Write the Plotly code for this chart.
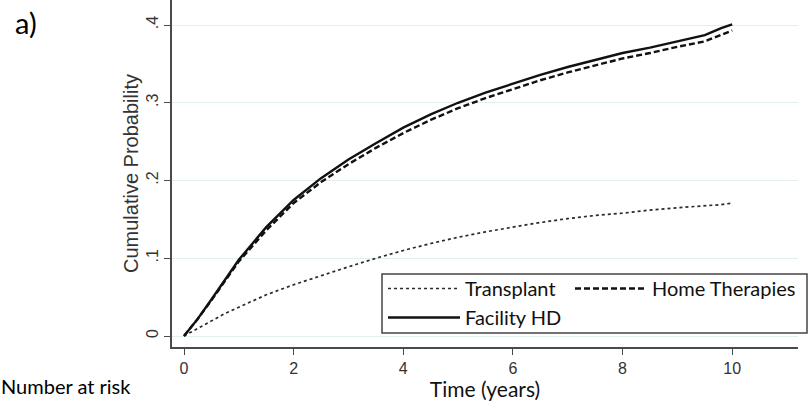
import plotly.graph_objects as go

# ---- data ----
time_years = [0, 0.25, 0.5, 0.75, 1.0, 1.5, 2.0, 2.5, 3.0, 3.5, 4.0, 4.5, 5.0,
              5.5, 6.0, 6.5, 7.0, 7.5, 8.0, 8.5, 9.0, 9.5, 9.8, 10.0]
facility_hd = [0, 0.022, 0.047, 0.072, 0.098, 0.140, 0.175, 0.203, 0.227, 0.248,
               0.268, 0.285, 0.300, 0.313, 0.325, 0.336, 0.346, 0.355, 0.364,
               0.371, 0.379, 0.387, 0.396, 0.401]
home_therapies = [0, 0.022, 0.046, 0.071, 0.096, 0.136, 0.171, 0.198, 0.221, 0.242,
                  0.261, 0.278, 0.293, 0.306, 0.318, 0.329, 0.339, 0.348, 0.357,
                  0.364, 0.372, 0.379, 0.387, 0.393]
transplant = [0, 0.010, 0.020, 0.029, 0.037, 0.053, 0.066, 0.078, 0.089, 0.100,
              0.110, 0.119, 0.127, 0.134, 0.140, 0.146, 0.151, 0.155, 0.158,
              0.162, 0.165, 0.167, 0.169, 0.171]

y_ticks = [0, 0.1, 0.2, 0.3, 0.4]
y_tick_labels = ["0", ".1", ".2", ".3", ".4"]
x_ticks = [0, 2, 4, 6, 8, 10]
x_tick_labels = ["0", "2", "4", "6", "8", "10"]

AX = "#4a4a4a"
GRID = "#e3eef1"
LEG_FONT = dict(family="Lato, 'Open Sans', sans-serif", size=20, color="#111111")

fig = go.Figure()
fig.add_trace(go.Scatter(x=time_years, y=transplant, mode="lines", name="Transplant",
                         line=dict(color="#2a2a2a", width=1.7, dash="dot"), legend="legend"))
fig.add_trace(go.Scatter(x=time_years, y=home_therapies, mode="lines", name="Home Therapies",
                         line=dict(color="#111111", width=2.4, dash="6px,3px"), legend="legend2"))
fig.add_trace(go.Scatter(x=time_years, y=facility_hd, mode="lines", name="Facility HD",
                         line=dict(color="#111111", width=2.4), legend="legend"))

W, H = 811, 401
ml, mr, mt, mb = 172, 13, 0, 54
pw, ph = W - ml - mr, H - mt - mb

def px2x(px):
    return (px - ml) / pw

def py2y(py):
    return (H - mb - py) / ph

fig.update_layout(
    width=W, height=H,
    margin=dict(l=ml, r=mr, t=mt, b=mb, pad=0, autoexpand=False),
    paper_bgcolor="white", plot_bgcolor="white",
    showlegend=True,
    legend=dict(x=px2x(383), y=py2y(269), xanchor="left", yanchor="top",
                orientation="v", font=LEG_FONT, itemwidth=72,
                bgcolor="rgba(0,0,0,0)", borderwidth=0, tracegroupgap=0),
    legend2=dict(x=px2x(570), y=py2y(269), xanchor="left", yanchor="top",
                 orientation="v", font=LEG_FONT, itemwidth=72,
                 bgcolor="rgba(0,0,0,0)", borderwidth=0),
    xaxis=dict(range=[-0.219, 11.2], tickmode="array", tickvals=x_ticks,
               ticktext=x_tick_labels, ticks="outside", ticklen=6, tickwidth=1.3,
               tickcolor=AX, showline=True, linecolor=AX, linewidth=1.5,
               showgrid=False, zeroline=False, automargin=False,
               tickfont=dict(family="Liberation Sans, Arial, sans-serif", size=16, color="#333333"),
               title=dict(text="Time (years)", standoff=0,
                          font=dict(family="Lato, 'Open Sans', sans-serif", size=21, color="#111111"))),
    yaxis=dict(range=[-0.01415, 0.4322], tickmode="array", tickvals=y_ticks,
               ticktext=y_tick_labels, tickangle=-90, ticks="outside", ticklen=6,
               tickwidth=1.3, tickcolor=AX, showline=True, linecolor=AX, linewidth=1.5,
               showgrid=True, gridcolor=GRID, gridwidth=1.2, zeroline=False, automargin=False,
               tickfont=dict(family="Liberation Sans, Arial, sans-serif", size=16, color="#333333"),
               title=dict(text="Cumulative Probability", standoff=0,
                          font=dict(family="Liberation Sans, Arial, sans-serif", size=20, color="#333333"))),
    shapes=[dict(type="rect", xref="paper", yref="paper",
                 x0=px2x(382), x1=px2x(807), y0=py2y(333), y1=py2y(274),
                 line=dict(color="#444444", width=1.5), fillcolor="rgba(0,0,0,0)")],
    annotations=[
        dict(text="a)", xref="paper", yref="paper", x=px2x(13), y=py2y(22),
             xanchor="left", yanchor="middle", showarrow=False,
             font=dict(family="Lato, 'Open Sans', sans-serif", size=29, color="#000000")),
        dict(text="Number at risk", xref="paper", yref="paper", x=px2x(-1), y=py2y(386),
             xanchor="left", yanchor="middle", showarrow=False,
             font=dict(family="Lato, 'Open Sans', sans-serif", size=20, color="#000000")),
    ],
)

fig.write_html("out.html", config={"displayModeBar": False},
               post_script="document.body.style.margin='0';document.body.style.overflow='hidden';")
